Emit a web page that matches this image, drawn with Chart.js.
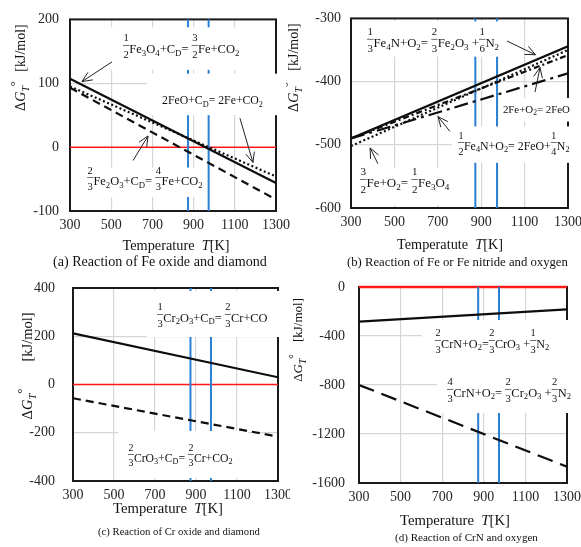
<!DOCTYPE html>
<html>
<head>
<meta charset="utf-8">
<script src="https://cdn.jsdelivr.net/npm/chart.js@4.4.1/dist/chart.umd.min.js"></script>
<style>
  html, body { margin: 0; padding: 0; background: #fff; overflow: hidden; }
  #sheet { position: relative; width: 581px; height: 547px; overflow: hidden; }
  #sheet canvas { position: absolute; left: 0; top: 0; }
</style>
</head>
<body>
<div id="sheet">
  <canvas id="chartA" width="620" height="547"></canvas>
  <canvas id="chartB" width="620" height="547"></canvas>
  <canvas id="chartC" width="620" height="547"></canvas>
  <canvas id="chartD" width="620" height="547"></canvas>
</div>
<script>
const tempRange = [300, 1300];
const tempTicks = [300, 500, 700, 900, 1100, 1300];
const transitionTemps = [873, 973];
const zeroLine = 0;

// (a) Fe oxide + diamond
const feOxideTicks = [-100, 0, 100, 200];
const fe3o4Diamond = [107, -56];
const feoDiamond = [95, -46];
const fe2o3Diamond = [93, -82];

// (b) Fe / Fe4N + oxygen
const feOxygenTicks = [-600, -500, -400, -300];
const fe4nToFe2o3 = [-490, -344];
const feToFe3o4 = [-502, -350];
const feToFeo = [-490, -358];
const fe4nToFeo = [-490, -387];

// (c) Cr oxide + diamond
const crOxideTicks = [-400, -200, 0, 200, 400];
const cr2o3Diamond = [212, 30];
const cro3Diamond = [-57, -216];

// (d) CrN + oxygen
const crnTicks = [-1600, -1200, -800, -400, 0];
const crnToCro3 = [-283, -182];
const crnToCr2o3 = [-800, -1467];

const SERIF = '"Liberation Serif", "Times New Roman", serif';

const panels = [
  {
    id: 'chartA', clip: [0, 0, 290, 270], area: [70, 276, 17, 211], yTicks: feOxideTicks, yPad: 11,
    series: [
      { values: fe3o4Diamond, dash: [] },
      { values: feoDiamond, dash: [2, 2.5] },
      { values: fe2o3Diamond, dash: [8, 5] }
    ],
    labels: [
      { text: '{1/2}Fe_3O_4+C_D= {3/2}Fe+CO_2', at: [557, 153.6], width: 117, box: [446, 1198, 187.6, 121] },
      { text: '2FeO+C_D= 2Fe+CO_2', at: [747, 73], width: 101, box: [674, 1353, 115, 50] },
      { text: '{2/3}Fe_2O_3+C_D= {4/3}Fe+CO_2', at: [383, -53.6], width: 116, box: [358, 960, -32, -78] }
    ],
    arrows: [
      { from: [504, 133.5], to: [358, 102.6] },
      { from: [1125, 45.3], to: [1188, -24] },
      { from: [606, -21], to: [679, 17.5] }
    ],
    yTitle: { cx: 20, unit: 48, delta: 96, size: 14 },
    xTitle: { word: 'Temperature  ', cx: 176, base: 250, width: 107 },
    caption: { text: '(a) Reaction of Fe oxide and diamond', cx: 160, base: 266, width: 214 }
  },
  {
    id: 'chartB', clip: [286, 0, 581, 270], area: [351, 568, 15, 208], yTicks: feOxygenTicks, yPad: 10,
    series: [
      { values: fe4nToFe2o3, dash: [] },
      { values: feToFe3o4, dash: [2, 2.5] },
      { values: feToFeo, dash: [6, 3, 2, 3] },
      { values: fe4nToFeo, dash: [14, 5, 3, 5] }
    ],
    labels: [
      { text: '{1/3}Fe_4N+O_2= {2/3}Fe_2O_3 +{1/6}N_2', at: [374, -339], width: 133, box: [332, 1056, -304.7, -360.6] },
      { text: '2Fe+O_2= 2FeO', at: [1000, -444.6], width: 67, box: [987, 1355, -425.9, -463.2] },
      { text: '{1/2}Fe_4N+O_2= 2FeO+{1/4}N_2', at: [793, -502], width: 112, box: [765, 1355, -471, -528.5] },
      { text: '{3/2}Fe+O_2= {1/2}Fe_3O_4', at: [341.5, -561], width: 90, box: [318, 784, -536.3, -595.3] }
    ],
    arrows: [
      { from: [1019, -335.8], to: [1150, -357.5] },
      { from: [1148, -416.6], to: [1171, -377.7] },
      { from: [756, -478.8], to: [701, -455.4] },
      { from: [424, -530], to: [388, -505] }
    ],
    yTitle: { cx: 293, unit: 47, delta: 97, size: 14 },
    xTitle: { word: 'Temperatute  ', cx: 450, base: 249, width: 106 },
    caption: { text: '(b) Reaction of Fe or Fe nitride and oxygen', cx: 457.5, base: 266, width: 221 }
  },
  {
    id: 'chartC', clip: [0, 270, 290, 547], area: [73, 278, 288, 481], yTicks: crOxideTicks, yPad: 18,
    series: [
      { values: cr2o3Diamond, dash: [] },
      { values: cro3Diamond, dash: [8, 5] }
    ],
    labels: [
      { text: '{1/3}Cr_2O_3+C_D= {2/3}Cr+CO', at: [710, 275.6], width: 111, box: [661, 1334, 387.6, 196.9] },
      { text: '{2/3}CrO_3+C_D= {2/3}Cr+CO_2', at: [568, -304.7], width: 105, box: [519.5, 1154, -192.7, -387.6] }
    ],
    arrows: [],
    yTitle: { cx: 27, unit: 337, delta: 404, size: 14.5 },
    xTitle: { word: 'Temperature  ', cx: 168, base: 513, width: 110 },
    caption: { text: '(c) Reaction of Cr oxide and diamond', cx: 179, base: 535, width: 162 }
  },
  {
    id: 'chartD', clip: [286, 270, 581, 547], area: [359, 567, 287, 483], yTicks: crnTicks, yPad: 14,
    series: [
      { values: crnToCro3, dash: [] },
      { values: crnToCr2o3, dash: [16, 8] }
    ],
    labels: [
      { text: '{2/3}CrN+O_2={2/3}CrO_3 +{1/3}N_2', at: [665, -465.3], width: 115, box: [603, 1362, -269.4, -644.9] },
      { text: '{4/3}CrN+O_2= {2/3}Cr_2O_3 +{2/3}N_2', at: [723, -865.3], width: 125, box: [675, 1362, -644.9, -1028.6] }
    ],
    arrows: [],
    yTitle: { cx: 298, unit: 320, delta: 368, size: 13 },
    xTitle: { word: 'Temperature  ', cx: 455, base: 525, width: 110 },
    caption: { text: '(d) Reaction of CrN and oxygen', cx: 466.5, base: 541, width: 143 }
  }
];

// ---- small rich text helpers ----
function runFont(r, size) {
  return (r.it ? 'italic ' : '') + (size * (r.sc || 1)).toFixed(2) + 'px ' + SERIF;
}
function runsWidth(ctx, runs, size) {
  let w = 0;
  for (const r of runs) { ctx.font = runFont(r, size); w += ctx.measureText(r.t).width; }
  return w;
}
function drawRuns(ctx, runs, x, base, size) {
  for (const r of runs) {
    ctx.font = runFont(r, size);
    ctx.fillText(r.t, x, base + (r.dy || 0) * size);
    x += ctx.measureText(r.t).width;
  }
}
function drawVertical(ctx, runs, cx, cy, size) {
  const w = runsWidth(ctx, runs, size);
  ctx.save();
  ctx.translate(cx, cy);
  ctx.rotate(-Math.PI / 2);
  drawRuns(ctx, runs, -w / 2, 0.33 * size, size);
  ctx.restore();
}
function parseFormula(str) {
  let items = [], buf = '';
  const flush = () => { if (buf) items.push({ t: buf }); buf = ''; };
  for (let i = 0; i < str.length; i++) {
    const c = str[i];
    if (c === '{') {
      flush();
      const j = str.indexOf('}', i);
      items.push({ frac: str.slice(i + 1, j).split('/') });
      i = j;
    } else if (c === '_') {
      flush();
      items.push({ t: str[i + 1], sc: 0.7, dy: 0.22 });
      i++;
    } else buf += c;
  }
  flush();
  return items;
}
function fracWidth(ctx, f, size) {
  ctx.font = (size * 0.85).toFixed(2) + 'px ' + SERIF;
  return Math.max(ctx.measureText(f[0]).width, ctx.measureText(f[1]).width) + 1;
}
function formulaWidth(ctx, items, size) {
  let w = 0;
  for (const it of items) {
    if (it.frac) w += fracWidth(ctx, it.frac, size);
    else { ctx.font = runFont(it, size); w += ctx.measureText(it.t).width; }
  }
  return w;
}
function drawFormula(ctx, items, x, base, size) {
  for (const it of items) {
    if (it.frac) {
      const fw = fracWidth(ctx, it.frac, size);
      ctx.textAlign = 'center';
      ctx.fillText(it.frac[0], x + fw / 2, base - 0.93 * size);
      ctx.fillText(it.frac[1], x + fw / 2, base + 0.42 * size);
      ctx.textAlign = 'left';
      ctx.fillRect(x, base - 0.6 * size - 0.3, fw, 0.6);
      x += fw;
    } else {
      ctx.font = runFont(it, size);
      ctx.fillText(it.t, x, base + (it.dy || 0) * size);
      x += ctx.measureText(it.t).width;
    }
  }
}
function drawArrow(ctx, x1, y1, x2, y2) {
  const a = Math.atan2(y2 - y1, x2 - x1), h = 11, s = 0.42;
  ctx.beginPath();
  ctx.moveTo(x1, y1);
  ctx.lineTo(x2, y2);
  ctx.moveTo(x2 - h * Math.cos(a - s), y2 - h * Math.sin(a - s));
  ctx.lineTo(x2, y2);
  ctx.lineTo(x2 - h * Math.cos(a + s), y2 - h * Math.sin(a + s));
  ctx.stroke();
}

const deltaRuns = [
  { t: '\u0394' }, { t: 'G', it: true }, { t: 'T', it: true, sc: 0.72, dy: 0.28 },
  { t: '\u00b0', sc: 0.9, dy: -0.38 }
];
const unitRuns = [{ t: '[kJ/mol]' }];

function panelDecor(p) {
  return {
    id: 'panelDecor',
    beforeDraw(chart) {
      const ctx = chart.ctx, c = p.clip;
      ctx.save();
      ctx.beginPath();
      ctx.rect(c[0], c[1], c[2] - c[0], c[3] - c[1]);
      ctx.clip();
    },
    beforeDatasetsDraw(chart) {
      const { ctx, chartArea: a, scales: { x, y } } = chart;
      ctx.save();
      ctx.strokeStyle = '#1a1a1a';
      ctx.lineWidth = 2;
      ctx.strokeRect(a.left, a.top, a.right - a.left, a.bottom - a.top);

      const zy = y.getPixelForValue(zeroLine);
      ctx.strokeStyle = '#ff1a1a';
      ctx.lineWidth = zy <= a.top + 1 ? 2.4 : 1.5;
      ctx.beginPath(); ctx.moveTo(a.left, zy); ctx.lineTo(a.right, zy); ctx.stroke();

      ctx.strokeStyle = '#2a7fd2';
      ctx.lineWidth = 2;
      transitionTemps.forEach(t => {
        const px = x.getPixelForValue(t);
        ctx.beginPath(); ctx.moveTo(px, a.top); ctx.lineTo(px, a.bottom); ctx.stroke();
      });

      // white label backgrounds hide grid, frame and blue lines
      ctx.fillStyle = '#fff';
      p.labels.forEach(l => {
        const x1 = x.getPixelForValue(l.box[0]), x2 = x.getPixelForValue(l.box[1]);
        const y1 = y.getPixelForValue(l.box[2]), y2 = y.getPixelForValue(l.box[3]);
        ctx.fillRect(Math.min(x1, x2), Math.min(y1, y2), Math.abs(x2 - x1), Math.abs(y2 - y1));
      });
      ctx.restore();
    },
    afterDatasetsDraw(chart) {
      const { ctx, scales: { x, y } } = chart;
      ctx.save();
      ctx.strokeStyle = '#222';
      ctx.lineWidth = 1;
      p.arrows.forEach(ar => drawArrow(ctx,
        x.getPixelForValue(ar.from[0]), y.getPixelForValue(ar.from[1]),
        x.getPixelForValue(ar.to[0]), y.getPixelForValue(ar.to[1])));

      ctx.fillStyle = '#111';
      ctx.textAlign = 'left';
      ctx.textBaseline = 'alphabetic';
      p.labels.forEach(l => {
        const items = parseFormula(l.text);
        const size = 10 * l.width / formulaWidth(ctx, items, 10);
        drawFormula(ctx, items, x.getPixelForValue(l.at[0]), y.getPixelForValue(l.at[1]) + 0.3 * size, size);
      });
      ctx.restore();
    },
    afterDraw(chart) {
      const ctx = chart.ctx;
      ctx.save();
      ctx.fillStyle = '#111';
      ctx.textAlign = 'left';
      ctx.textBaseline = 'alphabetic';

      // y title, rotated, in two blocks
      drawVertical(ctx, deltaRuns, p.yTitle.cx, p.yTitle.delta, p.yTitle.size);
      drawVertical(ctx, unitRuns, p.yTitle.cx, p.yTitle.unit, p.yTitle.size);

      // x title
      const xRuns = [{ t: p.xTitle.word }, { t: 'T', it: true }, { t: '[K]' }];
      let size = 10 * p.xTitle.width / runsWidth(ctx, xRuns, 10);
      drawRuns(ctx, xRuns, p.xTitle.cx - p.xTitle.width / 2, p.xTitle.base, size);

      // caption
      const capRuns = [{ t: p.caption.text }];
      size = 10 * p.caption.width / runsWidth(ctx, capRuns, 10);
      drawRuns(ctx, capRuns, p.caption.cx - p.caption.width / 2, p.caption.base, size);
      ctx.restore();

      ctx.restore(); // clip from beforeDraw
    }
  };
}

function buildChart(p) {
  const W = 620, H = 547;
  const [left, right, top, bottom] = p.area;
  return new Chart(document.getElementById(p.id), {
    type: 'line',
    data: {
      datasets: p.series.map(s => ({
        data: tempRange.map((t, i) => ({ x: t, y: s.values[i] })),
        borderColor: '#0d0d0d',
        borderWidth: 2.2,
        borderDash: s.dash,
        pointRadius: 0,
        fill: false,
        tension: 0
      }))
    },
    options: {
      responsive: false,
      animation: false,
      events: [],
      layout: {
        autoPadding: false,
        padding: { left: 2, top: top, right: W - right, bottom: H - bottom - 30 }
      },
      plugins: { legend: { display: false }, tooltip: { enabled: false } },
      scales: {
        x: {
          type: 'linear',
          min: tempRange[0],
          max: tempRange[1],
          afterBuildTicks: s => { s.ticks = tempTicks.map(v => ({ value: v })); },
          afterFit: s => { s.height = 30; },
          grid: { color: '#d6d6d6', lineWidth: 1.2, drawTicks: false },
          border: { display: false },
          ticks: { font: { family: SERIF, size: 14 }, color: '#262626', padding: 6, maxRotation: 0, callback: v => String(v) }
        },
        y: {
          min: p.yTicks[0],
          max: p.yTicks[p.yTicks.length - 1],
          afterBuildTicks: s => { s.ticks = p.yTicks.map(v => ({ value: v })); },
          afterFit: s => { s.width = left - 2; },
          grid: { color: '#d6d6d6', lineWidth: 1.2, drawTicks: false },
          border: { display: false },
          ticks: { font: { family: SERIF, size: 14 }, color: '#262626', padding: p.yPad, callback: v => String(v) }
        }
      }
    },
    plugins: [panelDecor(p)]
  });
}

panels.forEach(buildChart);
</script>
</body>
</html>
